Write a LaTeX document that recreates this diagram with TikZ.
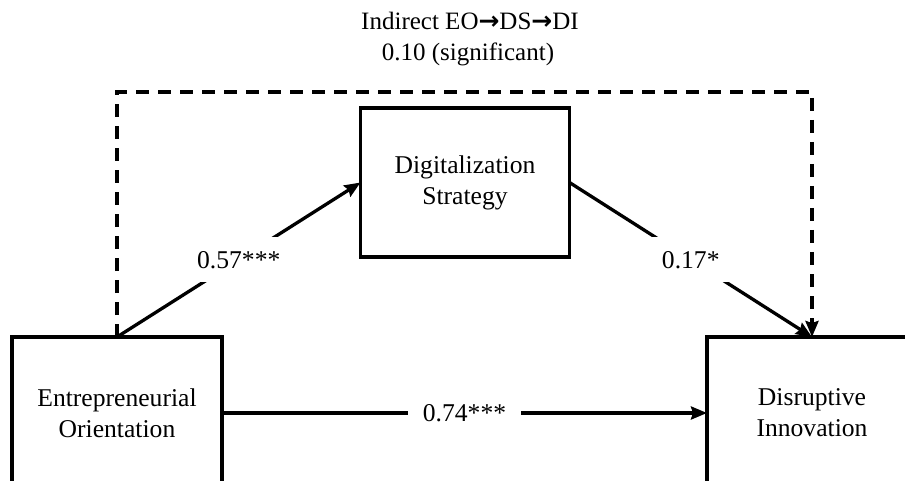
\documentclass[tikz,border=0pt]{standalone}
\usepackage{fontspec}
\setmainfont{Liberation Serif}
\newfontfamily\arrowfont{DejaVu Sans}
\usetikzlibrary{arrows.meta}
\begin{document}
\begin{tikzpicture}[x=1pt,y=-1pt,
  box/.style={draw, line width=3.8pt, minimum width=210pt, minimum height=152pt,
    align=center, inner sep=0pt, outer sep=0pt, font=\fontsize{25.6}{31}\selectfont},
  conn/.style={line width=3.3pt, -{Stealth[length=16pt,width=13pt,inset=2pt]}},
  lbl/.style={fill=white, inner xsep=15pt, inner ysep=14pt, font=\fontsize{25.6}{30}\selectfont},
  dashconn/.style={conn, dash pattern=on 13pt off 9pt},
  toptxt/.style={font=\fontsize{25}{30}\selectfont, inner sep=0pt}]
\useasboundingbox (0,0) rectangle (905,481);
\clip (0,0) rectangle (905,481);
\node[box] (eo) at (117,413) {Entrepreneurial\\Orientation};
\node[box] (di) at (812,413) {Disruptive\\Innovation};
\node[box, minimum width=209pt, minimum height=149pt] (ds) at (465,182.5) {Digitalization\\Strategy};
\coordinate (tl) at (117,92);
\coordinate (tr) at (812,92);
\draw[dashconn] (eo.north) -- (tl) -- (tr) -- (di.north);
\draw[conn] (eo.north) -- node[lbl] {0.57***} (ds.west);
\draw[conn] (ds.east) -- node[lbl] {0.17*} (di.north);
\draw[conn] (eo.east) -- node[lbl] {0.74***} (di.west);
\node[toptxt] (t1) at (470,21) {Indirect EO{\arrowfont\bfseries →}DS{\arrowfont\bfseries →}DI};
\node[toptxt] (t2) at (468,54) {0.10 (significant)};
\end{tikzpicture}
\end{document}
